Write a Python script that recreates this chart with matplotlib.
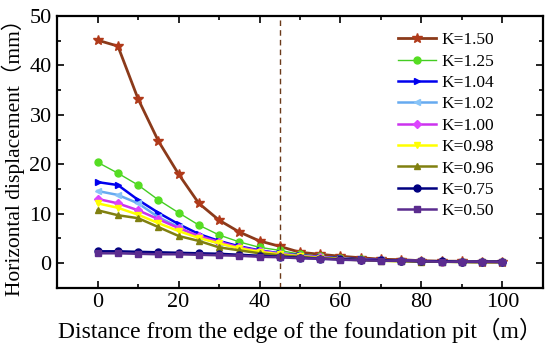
import matplotlib
matplotlib.use("Agg")
import matplotlib.pyplot as plt
from matplotlib.ticker import MultipleLocator

# distance from the pit edge (m)
distance = [0, 5, 10, 15, 20, 25, 30, 35, 40, 45, 50,
            55, 60, 65, 70, 75, 80, 85, 90, 95, 100]

k150 = [45.1, 43.9, 33.2, 24.7, 18.0, 12.1, 8.7, 6.3, 4.5, 3.4, 2.2,
        1.8, 1.4, 1.1, 0.8, 0.7, 0.5, 0.4, 0.4, 0.3, 0.3]
k125 = [20.4, 18.2, 15.8, 12.8, 10.2, 7.7, 5.7, 4.3, 3.2, 2.6, 1.8,
        1.4, 1.1, 0.8, 0.6, 0.5, 0.4, 0.3, 0.3, 0.2, 0.2]
k104 = [16.4, 15.8, 12.8, 10.2, 7.9, 5.9, 4.5, 3.4, 2.6, 2.0, 1.6,
        1.3, 1.0, 0.8, 0.6, 0.5, 0.4, 0.3, 0.3, 0.2, 0.2]
k102 = [14.6, 13.8, 12.1, 9.3, 7.3, 5.3, 4.0, 3.1, 2.4, 1.9, 1.5,
        1.2, 0.9, 0.7, 0.6, 0.5, 0.4, 0.3, 0.3, 0.2, 0.2]
k100 = [13.0, 12.1, 10.7, 8.9, 7.1, 5.5, 4.3, 3.2, 2.5, 1.9, 1.5,
        1.2, 0.9, 0.7, 0.6, 0.5, 0.4, 0.3, 0.3, 0.2, 0.2]
k098 = [12.1, 11.2, 9.8, 8.1, 6.5, 5.1, 4.0, 3.0, 2.3, 1.8, 1.4,
        1.1, 0.9, 0.7, 0.5, 0.4, 0.4, 0.3, 0.3, 0.2, 0.2]
k096 = [10.7, 9.7, 9.1, 7.3, 5.5, 4.5, 3.2, 2.6, 2.0, 1.6, 1.3,
        1.0, 0.8, 0.6, 0.5, 0.4, 0.3, 0.3, 0.2, 0.2, 0.2]
k075 = [2.4, 2.4, 2.3, 2.2, 2.1, 2.0, 1.9, 1.7, 1.5, 1.3, 1.1,
        0.9, 0.8, 0.7, 0.6, 0.5, 0.4, 0.4, 0.3, 0.3, 0.3]
k050 = [2.0, 2.0, 1.9, 1.8, 1.8, 1.7, 1.6, 1.5, 1.3, 1.2, 1.0,
        0.9, 0.7, 0.6, 0.5, 0.5, 0.4, 0.3, 0.3, 0.3, 0.2]

labels = ["K=1.50", "K=1.25", "K=1.04", "K=1.02", "K=1.00",
          "K=0.98", "K=0.96", "K=0.75", "K=0.50"]
series = [k150, k125, k104, k102, k100, k098, k096, k075, k050]
line_colors = ["#8B3A1A", "#44CC22", "#0000EE", "#66AAF0", "#CC33EE",
               "#FFFF00", "#808010", "#000080", "#5B2C8F"]
marker_colors = ["#B03A1A", "#55DD22", "#0000EE", "#88C4F8", "#DD44FF",
                 "#FFFF00", "#808010", "#000080", "#5B2C8F"]
markers = ["*", "o", ">", "<", "D", "v", "^", "o", "s"]
widths = [2.0, 1.0, 1.8, 1.8, 1.8, 1.8, 1.8, 1.8, 1.8]

plt.rcParams["font.family"] = ["Liberation Serif", "Noto Sans CJK SC"]

fig = plt.figure(figsize=(5.5, 3.55), dpi=100)
ax = fig.add_axes([0.104, 0.189, 0.883, 0.766])

for y, lab, lc, mc, m, lw in zip(series, labels, line_colors, marker_colors, markers, widths):
    ms = 7 if m == "*" else 5
    if m == "D":
        ms = 4.5
    ax.plot(distance, y, color=lc, lw=lw, marker=m, markersize=ms,
            markerfacecolor=mc, markeredgecolor=mc, label=lab)

ax.axvline(45, color="#6B3A1A", lw=1.0, ls=(0, (4, 3)))

ax.set_xlim(-10, 110)
ax.set_ylim(-5, 50)
ax.xaxis.set_major_locator(MultipleLocator(20))
ax.xaxis.set_minor_locator(MultipleLocator(10))
ax.yaxis.set_major_locator(MultipleLocator(10))
ax.yaxis.set_minor_locator(MultipleLocator(5))
ax.tick_params(which="both", direction="in", top=True, right=True,
               labelsize=16, width=1.2, pad=4)
ax.tick_params(which="major", length=5)
ax.tick_params(which="minor", length=3)
for sp in ax.spines.values():
    sp.set_linewidth(1.6)

ax.set_xlabel("Distance from the edge of the foundation pit（m）", fontsize=17, labelpad=4)
ax.set_ylabel("Horizontal displacement（mm）", fontsize=15.5, labelpad=3)

ax.legend(loc="upper right", frameon=False, fontsize=12.5, handlelength=2.2,
          labelspacing=0.3, handletextpad=0.3, borderaxespad=0.3,
          bbox_to_anchor=(0.925, 0.985))

fig.savefig("out.png", dpi=100)
